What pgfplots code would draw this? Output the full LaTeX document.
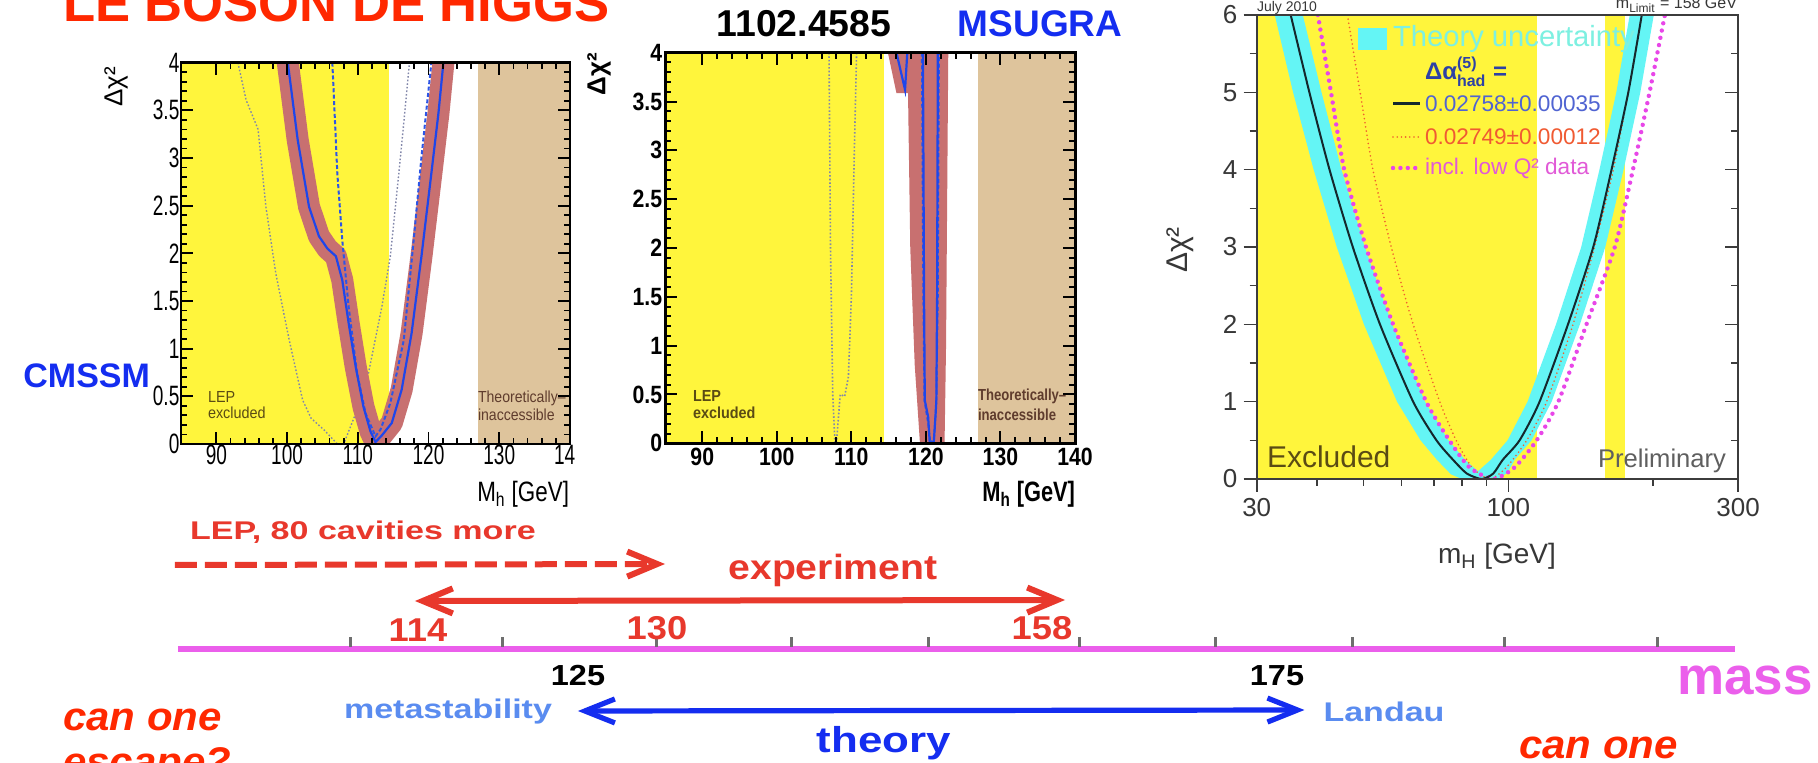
\documentclass[border=0pt]{standalone}
\usepackage{pgfplots}
\pgfplotsset{compat=1.18}
\usepackage{fontspec}
\setmainfont{Liberation Sans}
\usetikzlibrary{arrows.meta}
\definecolor{ylw}{RGB}{255,245,60}
\definecolor{tanbg}{RGB}{222,196,156}
\definecolor{band}{RGB}{200,112,112}
\definecolor{bcurve}{RGB}{30,70,235}
\definecolor{bdash}{RGB}{45,85,230}
\definecolor{gdot}{RGB}{130,135,170}
\definecolor{cyanb}{RGB}{100,245,245}
\definecolor{cyantext}{RGB}{125,240,225}
\definecolor{blk3}{RGB}{20,40,45}
\definecolor{red3}{RGB}{240,95,45}
\definecolor{mag3}{RGB}{232,70,232}
\definecolor{axgrey}{RGB}{60,60,60}
\definecolor{labgrey}{RGB}{55,55,55}
\definecolor{titlered}{RGB}{255,40,0}
\definecolor{slred}{RGB}{232,56,44}
\definecolor{slblue}{RGB}{20,45,240}
\definecolor{ltblue}{RGB}{90,140,240}
\definecolor{magline}{RGB}{235,95,235}
\definecolor{tickgrey}{RGB}{110,110,110}
\definecolor{olivetxt}{RGB}{90,75,20}
\definecolor{darkbr}{RGB}{95,60,45}
\definecolor{dablue}{RGB}{45,65,165}
\definecolor{leg1}{RGB}{80,100,210}
\definecolor{leg2}{RGB}{240,90,50}
\definecolor{leg3}{RGB}{225,90,215}
\begin{document}
\begin{tikzpicture}
\path[use as bounding box] (0pt,0pt) rectangle (909pt,381.5pt);
\fill[white] (0pt,0pt) rectangle (909pt,381.5pt);

% ---------------- bottom annotation axis (mass line, arrows) ----------------
\begin{axis}[at={(0pt,0pt)},anchor=south west,scale only axis,
  width=909pt,height=381.5pt,xmin=85.87,xmax=211.08,ymin=0,ymax=763,
  y dir=reverse,hide axis,clip=false]
\addplot[magline,line width=3pt] coordinates {(98.13,649) (205.35,649)};
\addplot[only marks,mark=|,mark size=2.5pt,mark options={draw=tickgrey,line width=1.5pt}]
  coordinates {(110.0,642) (120.5,642) (131.1,642) (140.4,642) (149.8,642)
               (160.2,642) (169.6,642) (179.0,642) (189.5,642) (200.0,642)};
\addplot[slred,line width=3pt,dash pattern=on 11pt off 4pt,
  -{Straight Barb[length=15pt,width=12.5pt]}] coordinates {(97.92,565) (131.67,564)};
\addplot[slred,line width=3pt,
  {Straight Barb[length=15pt,width=12.5pt]}-{Straight Barb[length=15pt,width=12.5pt]}]
  coordinates {(114.45,601) (159.22,600)};
\addplot[slblue,line width=2.6pt,
  {Straight Barb[length=15pt,width=12pt]}-{Straight Barb[length=15pt,width=12pt]}]
  coordinates {(125.67,711) (175.71,710)};
\end{axis}

% ---------------- plot 1 : CMSSM ----------------
\begin{axis}[at={(90.5pt,159.5pt)},anchor=south west,scale only axis,
  width=194.5pt,height=190.65pt,xmin=85,xmax=140,ymin=0,ymax=4,
  axis on top,axis line style={line width=1.4pt},
  xtick={90,100,110,120,130,140},xticklabels={90,100,110,120,130,14\phantom{0}},
  ytick={0,0.5,1,1.5,2,2.5,3,3.5,4},yticklabels={0,0.5,1,1.5,2,2.5,3,3.5,4},
  minor x tick num=4,minor y tick num=4,
  tick align=inside,major tick length=6pt,minor tick length=3pt,
  tick style={black,line width=0.9pt},
  tick label style={font=\fontsize{14}{14}\selectfont,xscale=0.68},
  xticklabel style={inner ysep=0.5pt},yticklabel style={inner xsep=1pt}]
\addplot[fill=ylw,draw=none] coordinates {(85,0)(114.4,0)(114.4,4)(85,4)} -- cycle;
\addplot[fill=tanbg,draw=none] coordinates {(127,0)(140,0)(140,4)(127,4)} -- cycle;
\addplot[gdot,line width=0.7pt,dash pattern=on 0.8pt off 1pt] coordinates {
 (93.05,4) (94.2,3.61) (95.9,3.30) (97.0,2.49) (98.4,1.79) (100.3,1.09) (102.2,0.46)
 (103.4,0.27) (105.2,0.15) (107.1,0) (108.0,0) (109.7,0.32) (111.5,0.74) (113.4,1.44)
 (114.6,1.97) (115.8,2.84) (116.5,3.37) (117.3,4)};
\addplot[band,line width=11pt,line join=round] coordinates {
 (100.1,4.2) (100.1,4) (101.5,3.19) (103.1,2.49) (104.5,2.18) (105.7,2.05) (106.9,1.97)
 (107.8,1.72) (108.7,1.27) (109.7,0.81) (110.8,0.39) (111.8,0.13) (112.5,0.02)
 (113.4,0.09) (114.8,0.22) (116.2,0.57) (117.6,1.16) (119.0,1.97) (120.4,2.84)
 (121.4,3.47) (122.1,4) (122.2,4.2)};
\addplot[bdash,line width=1pt,dash pattern=on 2pt off 1.2pt] coordinates {
 (106.4,4) (107.1,2.84) (107.8,2.14) (108.7,1.44) (109.9,0.74) (111.1,0.32) (112.5,0.08)
 (113.2,0.15) (114.6,0.43) (116.5,1.09) (117.9,2.14) (119.0,3.01) (120.4,4)};
\addplot[bcurve,line width=1.1pt] coordinates {
 (100.1,4) (101.5,3.19) (103.1,2.49) (104.5,2.18) (105.7,2.05) (106.9,1.97)
 (107.8,1.72) (108.7,1.27) (109.7,0.81) (110.8,0.39) (111.8,0.13) (112.5,0.02)
 (113.4,0.09) (114.8,0.22) (116.2,0.57) (117.6,1.16) (119.0,1.97) (120.4,2.84)
 (121.4,3.47) (122.1,4)};
\end{axis}

% ---------------- plot 2 : MSUGRA ----------------
\begin{axis}[at={(332.5pt,159.85pt)},anchor=south west,scale only axis,
  width=205pt,height=195.3pt,xmin=85,xmax=140,ymin=0,ymax=4,
  axis on top,axis line style={line width=1.5pt},
  xtick={90,100,110,120,130,140},xticklabels={90,100,110,120,130,140},
  ytick={0,0.5,1,1.5,2,2.5,3,3.5,4},yticklabels={0,0.5,1,1.5,2,2.5,3,3.5,4},
  minor x tick num=4,minor y tick num=4,
  tick align=inside,major tick length=6pt,minor tick length=3pt,
  tick style={black,line width=1pt},
  tick label style={font=\bfseries\fontsize{12.5}{12.5}\selectfont,xscale=0.85},
  xticklabel style={inner ysep=2pt},yticklabel style={inner xsep=1.5pt}]
\addplot[fill=ylw,draw=none] coordinates {(85,0)(114.4,0)(114.4,4)(85,4)} -- cycle;
\addplot[fill=tanbg,draw=none] coordinates {(127,0)(140,0)(140,4)(127,4)} -- cycle;
\addplot[fill=band,draw=none] coordinates {(114.9,4)(116.05,3.585)(117.6,3.585)(117.9,2)
 (118.5,0.8)(119.2,0)(122.5,0)(122.7,1)(123.0,4)} -- cycle;
\addplot[gdot,line width=0.8pt,dash pattern=on 0.8pt off 1pt] coordinates {
 (107.0,4) (107.2,2) (107.5,0.5) (107.8,0) (108.0,0) (108.5,0.5) (109.1,0.48)
 (109.6,0.68) (110.0,1.5) (110.4,3) (110.7,4)};
\addplot[bcurve,line width=1.1pt] coordinates {(116.05,4) (117.2,3.62) (117.5,4)};
\addplot[bdash,line width=0.9pt,dash pattern=on 2pt off 1.2pt] coordinates {
 (119.45,4) (119.65,1.5) (119.8,0.44) (120.3,0.2) (120.6,0) (121.1,0.05) (121.4,0.44)
 (121.6,1.5) (121.75,4)};
\addplot[bcurve,line width=1.1pt] coordinates {
 (119.6,4) (119.75,1.5) (119.85,0.44) (120.3,0.27) (120.5,0.02) (120.8,0) (121.06,0.02)
 (121.3,0.3) (121.4,0.44) (121.5,1.5) (121.6,4)};
\end{axis}

% ---------------- plot 3 : electroweak fit ----------------
\begin{axis}[at={(628.35pt,142pt)},anchor=south west,scale only axis,
  width=240.65pt,height=232pt,xmode=log,xmin=30,xmax=300,ymin=0,ymax=6,
  axis on top,axis line style={line width=1.2pt,draw=axgrey},
  xtick={30,100,300},xticklabels={30,100,300},
  minor xtick={40,50,60,70,80,90,200},
  ytick={0,1,2,3,4,5,6},yticklabels={0,1,2,3,4,5,6},
  minor ytick={0.5,1.5,2.5,3.5,4.5,5.5},
  tick align=outside,major tick length=6.5pt,minor tick length=3.5pt,
  xtick pos=bottom,ytick pos=left,
  tick style={axgrey,line width=0.8pt},
  tick label style={font=\fontsize{13}{13}\selectfont,text=labgrey},
  xticklabel style={inner ysep=3pt},yticklabel style={inner xsep=3pt}]
\addplot[fill=ylw,draw=none] coordinates {(30,0)(114.5,0)(114.5,6)(30,6)} -- cycle;
\addplot[fill=ylw,draw=none] coordinates {(158.4,0)(175,0)(175,6)(158.4,6)} -- cycle;
\addplot[fill=cyanb,draw=none] coordinates {
 (32.7,6) (35.7,5) (39.4,4) (44.0,3) (50.1,2) (58.7,1) (65.7,0.5) (71.0,0.25) (76.0,0.06)
 (80,0) (95,0) (99.5,0.08) (103.1,0.25) (111.7,0.5) (123,1) (140.8,2) (159,3) (173.5,4)
 (188,5) (200.5,6) (178.7,6) (167.6,5) (154.6,4) (141.7,3) (125.6,2) (109.6,1) (99.6,0.5)
 (92,0.25) (86.5,0.1) (81.2,0.25) (75.1,0.5) (67.1,1) (57.3,2) (50.3,3) (45.0,4)
 (40.9,5) (37.4,6)} -- cycle;
\addplot[red3,line width=0.9pt,line cap=round,dash pattern=on 0pt off 2.1pt,smooth,tension=0.4] coordinates {
 (46.3,6) (49.2,5) (52.3,4) (57.1,3) (63.4,2) (72.0,1) (77.9,0.5) (84,0.15) (91.5,0)
 (99,0.15) (109.2,0.5) (120.1,1) (136.2,2) (151.0,3) (165.2,4) (177.5,5) (189.3,6)};
\addplot[mag3,line width=2.2pt,line cap=round,dash pattern=on 0pt off 3.7pt,smooth,tension=0.4] coordinates {
 (40.2,6) (42.8,5) (45.6,4) (50.6,3) (57.6,2) (67.5,1) (75.4,0.5) (83,0.15) (93.0,0)
 (103,0.15) (114.5,0.5) (127.0,1) (145.3,2) (166.4,3) (181.5,4) (196.5,5) (211.4,6)};
\addplot[blk3,line width=1pt,smooth,tension=0.4] coordinates {
 (35.3,6) (38.6,5) (42.5,4) (47.5,3) (54.1,2) (63.4,1) (70.9,0.5) (76.7,0.25) (82,0.07)
 (88,0) (93,0.07) (97.4,0.25) (105.5,0.5) (116.1,1) (133.0,2) (150.1,3) (163.8,4)
 (177.5,5) (189.3,6)};
\end{axis}
% right-hand inner ticks of plot 3
\begin{axis}[at={(628.35pt,142pt)},anchor=south west,scale only axis,
  width=240.65pt,height=232pt,xmode=log,xmin=30,xmax=300,ymin=0,ymax=6,
  axis line style={draw=none},xtick=\empty,
  ytick={0,1,2,3,4,5,6},yticklabels={},minor ytick={0.5,1.5,2.5,3.5,4.5,5.5},
  ytick pos=right,tick align=inside,major tick length=6.5pt,minor tick length=3.5pt,
  tick style={axgrey,line width=0.8pt}]
\end{axis}

% ---------------- texts (pixel frame: x right, y down) ----------------
\begin{scope}[x=0.5pt,y=-0.5pt,shift={(0pt,381.5pt)}]
\tikzset{every node/.style={inner sep=0pt,outer sep=0pt}}
\node[anchor=base west,font=\bfseries\fontsize{26.3}{28}\selectfont,text=titlered] at (63,22) {LE BOSON DE HIGGS};
\node[anchor=base,font=\bfseries\fontsize{18.7}{20}\selectfont,text=black] at (804,37) {1102.4585};
\node[anchor=base,font=\bfseries\fontsize{18.5}{20}\selectfont,text=slblue] at (1040,37) {MSUGRA};
\node[anchor=base east,font=\bfseries\fontsize{17}{18}\selectfont,text=slblue] at (150,388) {CMSSM};
% plot 1 labels
\node[rotate=90,font=\fontsize{13}{13}\selectfont] at (116,87) {Δχ²};
\node[anchor=base east,font=\fontsize{14}{14}\selectfont,xscale=0.8] at (569,502) {M\textsubscript{h} [GeV]};
\node[anchor=base west,font=\fontsize{8}{8}\selectfont,text=olivetxt,xscale=0.9] at (208,403) {LEP};
\node[anchor=base west,font=\fontsize{8}{8}\selectfont,text=olivetxt,xscale=0.9] at (208,419) {excluded};
\node[anchor=base west,font=\fontsize{8}{8}\selectfont,text=darkbr,xscale=0.88] at (478,403) {Theoretically--};
\node[anchor=base west,font=\fontsize{8}{8}\selectfont,text=darkbr,xscale=0.88] at (478,421) {inaccessible};
% plot 2 labels
\node[rotate=90,font=\bfseries\fontsize{13}{13}\selectfont] at (599,74) {Δχ²};
\node[anchor=base east,font=\bfseries\fontsize{14}{14}\selectfont,xscale=0.78] at (1075,502) {M\textsubscript{h} [GeV]};
\node[anchor=base west,font=\bfseries\fontsize{8}{8}\selectfont,text=olivetxt,xscale=0.9] at (693,402) {LEP};
\node[anchor=base west,font=\bfseries\fontsize{8}{8}\selectfont,text=olivetxt,xscale=0.9] at (693,419) {excluded};
\node[anchor=base west,font=\bfseries\fontsize{8}{8}\selectfont,text=darkbr,xscale=0.82] at (978,401) {Theoretically--};
\node[anchor=base west,font=\bfseries\fontsize{8}{8}\selectfont,text=darkbr,xscale=0.82] at (978,421) {inaccessible};
% plot 3 labels and legend
\node[rotate=90,font=\fontsize{15}{15}\selectfont,text=labgrey] at (1180,250) {Δχ²};
\node[anchor=base,font=\fontsize{14}{14}\selectfont,text=labgrey] at (1497,564) {m\textsubscript{H} [GeV]};
\node[anchor=base west,font=\fontsize{7}{7}\selectfont,text=labgrey] at (1257,12) {July 2010};
\node[anchor=base east,font=\fontsize{8}{8}\selectfont,text=labgrey] at (1737,9) {m\textsubscript{Limit} = 158 GeV};
\fill[cyanb] (1358,28) rectangle (1387,50);
\node[anchor=base west,font=\fontsize{14.6}{15}\selectfont,text=cyantext] at (1393,47) {Theory uncertainty};
\node[anchor=base west,font=\bfseries\fontsize{12}{12}\selectfont,text=dablue] at (1425,80)
  {Δα$^{\mbox{\fontsize{8}{8}\selectfont (5)}}_{\mbox{\fontsize{8}{8}\selectfont had}}$ =};
\draw[blk3,line width=1.5pt] (1393,104) -- (1420,104);
\node[anchor=base west,font=\fontsize{11.3}{11}\selectfont,text=leg1] at (1425,112) {0.02758±0.00035};
\draw[red3,line width=0.9pt,line cap=round,dash pattern=on 0pt off 2.1pt] (1393,137) -- (1420,137);
\node[anchor=base west,font=\fontsize{11.3}{11}\selectfont,text=leg2] at (1425,145) {0.02749±0.00012};
\draw[mag3,line width=2.2pt,line cap=round,dash pattern=on 0pt off 3.7pt] (1393,168) -- (1416,168);
\node[anchor=base west,font=\fontsize{11.3}{11}\selectfont,text=leg3] at (1425,175) {incl. low Q² data};
\node[anchor=base west,font=\fontsize{15}{15}\selectfont,text=olivetxt] at (1267,468) {Excluded};
\node[anchor=base east,font=\fontsize{12.8}{13}\selectfont,text=labgrey!80] at (1726,468) {Preliminary};
% bottom annotations
\node[anchor=base west,font=\bfseries\fontsize{12.8}{13}\selectfont,text=slred,xscale=1.33] at (190,540) {LEP, 80 cavities more};
\node[anchor=base,font=\bfseries\fontsize{17.5}{18}\selectfont,text=slred,xscale=1.12] at (833,580) {experiment};
\node[anchor=base,font=\bfseries\fontsize{16.5}{17}\selectfont,text=slred,xscale=1.1] at (418,642) {114};
\node[anchor=base,font=\bfseries\fontsize{16.5}{17}\selectfont,text=slred,xscale=1.1] at (657,640) {130};
\node[anchor=base,font=\bfseries\fontsize{16.5}{17}\selectfont,text=slred,xscale=1.1] at (1042,640) {158};
\node[anchor=base,font=\bfseries\fontsize{14.5}{15}\selectfont,text=black,xscale=1.12] at (578,686) {125};
\node[anchor=base,font=\bfseries\fontsize{14.5}{15}\selectfont,text=black,xscale=1.12] at (1277,686) {175};
\node[anchor=base,font=\bfseries\fontsize{13.5}{14}\selectfont,text=ltblue,xscale=1.26] at (448,719) {metastability};
\node[anchor=base,font=\bfseries\fontsize{13.5}{14}\selectfont,text=ltblue,xscale=1.26] at (1384,722) {Landau};
\node[anchor=base,font=\bfseries\fontsize{18}{18}\selectfont,text=slblue,xscale=1.22] at (884,753) {theory};
\node[anchor=base,font=\bfseries\fontsize{26.5}{27}\selectfont,text=magline] at (1745,695) {mass};
\node[anchor=base west,font=\bfseries\itshape\fontsize{20}{20}\selectfont,text=titlered,xscale=1.05] at (63,731) {can one};
\node[anchor=base west,font=\bfseries\itshape\fontsize{20}{20}\selectfont,text=titlered,xscale=1.05] at (63,776) {escape?};
\node[anchor=base west,font=\bfseries\itshape\fontsize{20}{20}\selectfont,text=titlered,xscale=1.05] at (1519,759) {can one};
\end{scope}
\end{tikzpicture}
\end{document}
